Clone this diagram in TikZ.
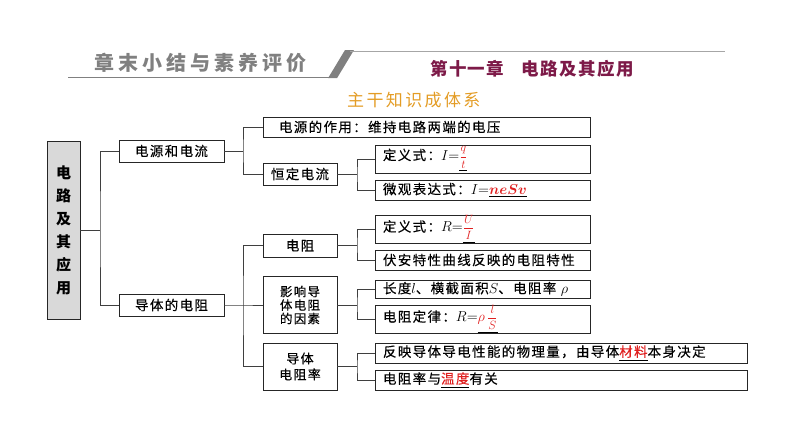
\documentclass[tikz,border=0pt]{standalone}
\usepackage{amsmath}
\usepackage{xcolor}
\usepackage{fontspec}
\usepackage{tikz}
\setmainfont{Noto Sans CJK SC}
\newfontfamily\boxfont[LetterSpace=10,FakeBold=0.3]{Noto Sans CJK SC}
\newfontfamily\headfont[LetterSpace=20]{Noto Sans CJK SC}
\newfontfamily\titlefont[LetterSpace=8]{Noto Sans CJK SC}
\newfontfamily\subfont[LetterSpace=14]{Noto Sans CJK SC}
\definecolor{headgray}{HTML}{808080}
\definecolor{chapred}{HTML}{7D1A48}
\definecolor{subgold}{HTML}{E39C25}
\definecolor{keyred}{HTML}{E02020}
\definecolor{rootgray}{HTML}{D9D9D9}
\definecolor{linegray}{HTML}{3F3F3F}
\newcommand{\fillin}[1]{\underline{\textcolor{keyred}{#1}}}
\newcommand{\qfrac}[2]{{\fontsize{13}{14}\selectfont$\dfrac{#1}{#2}$}}
\tikzset{
    box/.style={draw=black!85, line width=0.9pt, inner sep=0pt, font=\boxfont\fontsize{13.5}{15}\selectfont},
    rootbox/.style={box, fill=rootgray, minimum width=33pt, minimum height=178pt, align=center, font=\bfseries\fontsize{15}{23}\selectfont},
    topic/.style={box, minimum width=105pt, minimum height=22pt},
    sub/.style={box, minimum width=74pt, align=center},
    leaf/.style={box, minimum width=215pt, text width=199pt, inner xsep=8pt, align=left},
    wideleaf/.style={leaf, minimum width=372pt, text width=356pt},
    link/.style={linegray, line width=0.8pt},
    % header texts
    heading/.style={inner sep=0pt, anchor=west}
}

\begin{document}
\begin{tikzpicture}[x=1pt, y=-1pt]
    \useasboundingbox (0,0) rectangle (794,447);

    % Header band
    \node[heading, font=\headfont\bfseries\fontsize{20}{22}\selectfont, text=headgray] (head) at (94, 63) {章末小结与素养评价};
    \draw[headgray, line width=1.5pt] (68,77.5) -- (331,77.5);
    \fill[headgray] (328,78.2) -- (337,78.2) -- (354,50) -- (345,50) -- cycle;
    \draw[headgray!70, line width=0.6pt] (350,51) -- (725,51);
    \node[heading, font=\titlefont\bfseries\fontsize{17.5}{20}\selectfont, text=chapred] (chapter) at (430, 69) {第十一章\quad 电路及其应用};
    \node[heading, font=\subfont\fontsize{17}{19}\selectfont, text=subgold] (system) at (347, 100) {主干知识成体系};

    % Root and the two topics
    \node[rootbox] (root) at (63.5, 230) {电\\路\\及\\其\\应\\用};
    \node[topic] (power) at (171.5, 151) {电源和电流};
    \node[topic] (resist) at (171.5, 305) {导体的电阻};

    % Power source and current
    \node[leaf, minimum width=327pt, text width=295pt, inner xsep=16pt, minimum height=20pt] (role) at (426.5, 127) {电源的作用：维持电路两端的电压};
    \node[sub, minimum height=22pt] (steady) at (300, 174) {恒定电流};
    \node[leaf, minimum height=28pt] (defi) at (482.5, 159) {定义式：$I{=}$\fillin{\qfrac{q}{t}}};
    \node[leaf, minimum height=20pt] (micro) at (482.5, 190) {微观表达式：$I{=}$\fillin{$\boldsymbol{neSv}$}};

    % Resistance of a conductor
    \node[sub, minimum height=23pt] (ohm) at (300, 245.5) {电阻};
    \node[leaf, minimum height=28pt] (defr) at (482.5, 229) {定义式：$R{=}$\fillin{\qfrac{U}{I}}};
    \node[leaf, minimum height=20pt] (curve) at (482.5, 260) {伏安特性曲线反映的电阻特性};
    \node[sub, minimum height=57pt, font=\boxfont\fontsize{12.5}{13.5}\selectfont] (factor) at (300, 305) {影响导\\体电阻\\的因素};
    \node[leaf, minimum height=18pt] (length) at (482.5, 289) {长度$l$、横截面积$S$、电阻率 $\rho$};
    \node[leaf, minimum height=28pt] (law) at (482.5, 319) {电阻定律：$R{=}$\fillin{$\rho$\,\qfrac{l}{S}}};
    \node[sub, minimum height=47pt, font=\boxfont\fontsize{13}{16}\selectfont] (rho) at (300, 366.5) {导体\\电阻率};
    \node[wideleaf, minimum height=20pt] (meaning) at (561, 353) {反映导体导电性能的物理量，由导体\fillin{材料}本身决定};
    \node[wideleaf, minimum height=20pt] (temp) at (561, 380) {电阻率与\fillin{温度}有关};

    % Fork points
    \coordinate (j0) at (100, 230);
    \coordinate (j1) at (243, 151);
    \coordinate (j2) at (357, 174);
    \coordinate (j3) at (243, 305);
    \coordinate (j4) at (357, 245.5);
    \coordinate (j5) at (357, 305);
    \coordinate (j6) at (357, 366.5);

    % Connectors
    \draw[link] (root.east) -- (j0);
    \draw[link] (power.west) -| (j0) |- (resist.west);
    \draw[link] (power.east) -- (j1);
    \draw[link] (role.west) -| (j1) |- (steady.west);
    \draw[link] (steady.east) -- (j2);
    \draw[link] (defi.west) -| (j2) |- (micro.west);
    \draw[link] (resist.east) -- (j3) -- (factor.west);
    \draw[link] (ohm.west) -| (j3) |- (rho.west);
    \draw[link] (ohm.east) -- (j4);
    \draw[link] (defr.west) -| (j4) |- (curve.west);
    \draw[link] (factor.east) -- (j5);
    \draw[link] (length.west) -| (j5) |- (law.west);
    \draw[link] (rho.east) -- (j6);
    \draw[link] (meaning.west) -| (j6) |- (temp.west);
\end{tikzpicture}
\end{document}
